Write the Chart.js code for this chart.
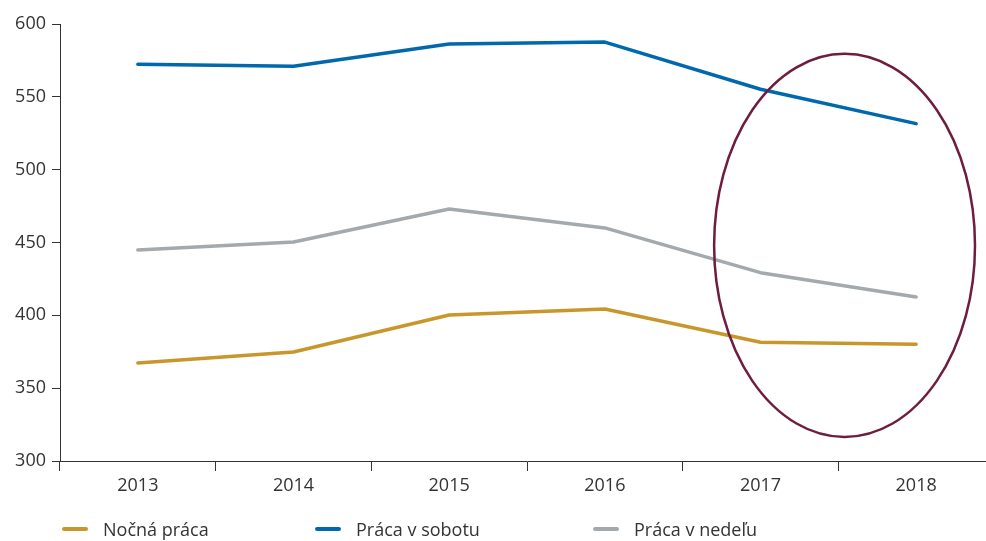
<!DOCTYPE html>
<html><head><meta charset="utf-8">
<script src="https://cdn.jsdelivr.net/npm/chart.js@4.4.1/dist/chart.umd.min.js"></script>
<style>
html,body{margin:0;padding:0;background:#fff;overflow:hidden;width:986px;height:541px;}
#wrap{position:absolute;left:0;top:0;width:1000px;height:541px;}
#legend{position:absolute;left:0;top:516px;width:986px;height:25px;font-family:"Open Sans",sans-serif;font-size:18px;color:#333;}
.item{position:absolute;top:0;display:flex;align-items:center;height:25px;}
.sw{display:inline-block;width:26px;height:4px;border-radius:2px;margin-right:15px;}
</style></head>
<body>
<div id="wrap"><canvas id="c" width="1000" height="541"></canvas></div>
<div id="legend"></div>
<script>
const categories = ["2013","2014","2015","2016","2017","2018"];
const seriesNames = ["Nočná práca","Práca v sobotu","Práca v nedeľu"];
const nocna = [367.3, 374.8, 400.2, 404.3, 381.5, 380.1];
const sobota = [572.3, 571.0, 586.3, 587.6, 555.2, 531.6];
const nedela = [444.9, 450.3, 473.0, 460.0, 429.3, 412.6];
const yTicks = [300, 350, 400, 450, 500, 550, 600];

const colors = ["#c9962b", "#0068ad", "#a3a9ad"];
const legendLeft = [62, 315, 593];

const lg = document.getElementById('legend');
seriesNames.forEach((n,i)=>{
  const d=document.createElement('div');d.className='item';d.style.left=legendLeft[i]+'px';
  const s=document.createElement('span');s.className='sw';s.style.background=colors[i];
  const t=document.createElement('span');t.textContent=n;
  d.appendChild(s);d.appendChild(t);lg.appendChild(d);
});

const ellipsePlugin = {
  id:'ellipse',
  afterDatasetsDraw(chart, args, opts){
    const x=chart.scales.x, y=chart.scales.y;
    const cx=x.getPixelForValue(opts.cx), cy=y.getPixelForValue(opts.cy);
    const unit = x.getPixelForValue(1)-x.getPixelForValue(0);
    const rx = opts.rx*unit;
    const ry = Math.abs(y.getPixelForValue(opts.cy+opts.ry)-cy);
    const ctx=chart.ctx;ctx.save();
    ctx.beginPath();ctx.ellipse(cx,cy,rx,ry,0,0,Math.PI*2);
    ctx.strokeStyle=opts.color;ctx.lineWidth=opts.width;ctx.stroke();ctx.restore();
  }
};

const font = {family:'"Open Sans", sans-serif', size:18};
new Chart(document.getElementById('c'),{
  type:'line',
  data:{labels:categories,datasets:[
    {label:seriesNames[0],data:nocna,borderColor:colors[0]},
    {label:seriesNames[1],data:sobota,borderColor:colors[1]},
    {label:seriesNames[2],data:nedela,borderColor:colors[2]}
  ].map(d=>Object.assign(d,{borderWidth:3.5,pointRadius:0,tension:0,fill:false,borderCapStyle:'round',borderJoinStyle:'round'}))},
  plugins:[ellipsePlugin],
  options:{
    responsive:false,animation:false,
    layout:{padding:{top:24,right:6,bottom:40,left:0}},
    plugins:{legend:{display:false},tooltip:{enabled:false},
      ellipse:{cx:4.54,cy:448,rx:0.838,ry:131.5,color:'#6e1d3f',width:2.5}},
    scales:{
      x:{offset:true,
        grid:{offset:true,drawOnChartArea:false,drawTicks:true,tickLength:10,color:'#333',lineWidth:1},
        border:{color:'#333',width:1},
        ticks:{font,color:'#333',padding:4,maxRotation:0},
        afterFit(s){s.height=40;}
      },
      y:{min:300,max:600,
        afterBuildTicks(s){s.ticks=yTicks.map(v=>({value:v}));},
        grid:{drawOnChartArea:false,drawTicks:true,tickLength:8,color:'#333',lineWidth:1},
        border:{color:'#333',width:1},
        ticks:{font,color:'#333',padding:6},
        afterFit(s){s.width=60;}
      }
    }
  }
});
</script>
</body></html>
